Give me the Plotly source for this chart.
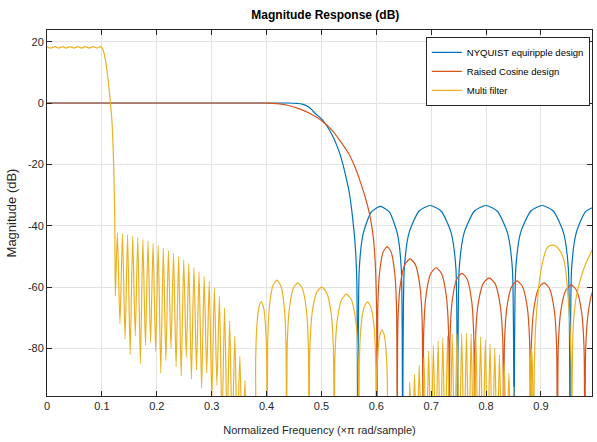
import plotly.graph_objects as go

# ---- NYQUIST equiripple design: normalized frequency (x pi rad/sample) and magnitude (dB)
nyq_f = [0, 0.2, 0.4, 0.44, 0.455, 0.465, 0.477, 0.49, 0.502, 0.51, 0.52, 0.528, 0.535, 0.5446, 0.551,
         0.5569, 0.5618, 0.5645, 0.5665,
         0.5689, 0.5763, 0.591, 0.6073, 0.6236, 0.6382, 0.6456, 0.648,
         0.651, 0.66, 0.678, 0.698, 0.718, 0.736, 0.745, 0.748,
         0.7511, 0.7604, 0.7789, 0.7995, 0.8201, 0.8386, 0.8479, 0.851,
         0.8541, 0.8632, 0.8816, 0.902, 0.9224, 0.9408, 0.9499, 0.953,
         0.9558, 0.9643, 0.9812, 0.999]
nyq_db = [0, 0, 0, 0, -0.1, -0.35, -1.3, -3.6, -5.5, -7.5, -10.6, -13.8, -17.3, -24, -29.5,
          -37.5, -47, -58, -130,
          -54.2, -42.4, -35.5, -33.7, -35.5, -42.4, -54.2, -130,
          -53.9, -42.1, -35.2, -33.4, -35.2, -42.1, -53.9, -130,
          -53.9, -42.1, -35.2, -33.4, -35.2, -42.1, -53.9, -130,
          -53.9, -42.1, -35.2, -33.4, -35.2, -42.1, -53.9, -130,
          -54.1, -42.3, -35.4, -33.7]

# ---- Raised Cosine design
rc_f = [0, 0.2, 0.38, 0.4, 0.42, 0.44, 0.46, 0.48, 0.5, 0.52, 0.535, 0.55, 0.56, 0.57, 0.58,
        0.588, 0.594, 0.598, 0.6005, 0.6015,
        0.6026, 0.6059, 0.6125, 0.6198, 0.627, 0.6336, 0.6369, 0.638,
        0.6394, 0.6436, 0.6521, 0.6615, 0.6709, 0.6794, 0.6836, 0.685,
        0.6864, 0.6908, 0.6994, 0.709, 0.7186, 0.7272, 0.7316, 0.733,
        0.7344, 0.7385, 0.7468, 0.756, 0.7652, 0.7735, 0.7776, 0.779,
        0.7806, 0.7854, 0.7949, 0.8055, 0.8161, 0.8256, 0.8304, 0.832,
        0.8335, 0.8379, 0.8467, 0.8565, 0.8663, 0.8751, 0.8795, 0.881,
        0.8825, 0.8869, 0.8957, 0.9055, 0.9153, 0.9241, 0.9285, 0.930,
        0.9315, 0.936, 0.945, 0.955, 0.965, 0.974, 0.9785, 0.980,
        0.9815, 0.986, 0.993, 0.999]
rc_db = [0, 0, 0, -0.02, -0.2, -0.8, -1.9, -3.5, -5.7, -9.0, -12.6, -16.6, -20.4, -25.2, -30.8,
         -36.5, -43, -52, -68, -130,
         -67.3, -55.5, -48.6, -46.8, -48.6, -55.5, -67.3, -130,
         -71.3, -59.5, -52.6, -50.8, -52.6, -59.5, -71.3, -130,
         -74.2, -62.4, -55.5, -53.7, -55.5, -62.4, -74.2, -130,
         -76.0, -64.2, -57.3, -55.5, -57.3, -64.2, -76.0, -130,
         -77.5, -65.7, -58.8, -57.0, -58.8, -65.7, -77.5, -130,
         -78.5, -66.7, -59.8, -58.0, -59.8, -66.7, -78.5, -130,
         -79.1, -67.3, -60.4, -58.6, -60.4, -67.3, -79.1, -130,
         -79.8, -68.0, -61.1, -59.3, -61.1, -68.0, -79.8, -130,
         -80.0, -68.5, -62.0, -60.3]

# ---- Multi filter: passband and transition
mf_pass_f = [0, 0.007, 0.014, 0.021, 0.028, 0.035, 0.042, 0.049, 0.056, 0.063, 0.07, 0.077, 0.084,
             0.091, 0.098, 0.1015, 0.104, 0.107, 0.110, 0.1134, 0.1178, 0.120, 0.122, 0.1235, 0.1245]
mf_pass_db = [18.3, 17.9, 18.35, 17.9, 18.35, 17.9, 18.35, 17.9, 18.35, 17.9, 18.35, 17.9, 18.4,
              17.9, 18.4, 17.6, 16.2, 13.5, 9.5, 4.0, -4.5, -12, -24, -38, -63]

# first stopband: fast ripples (peak, then the null that follows it)
mf_a_peak_f = [0.1282, 0.1375, 0.1468, 0.1561, 0.1654, 0.1747, 0.184, 0.1933, 0.2026, 0.2119,
               0.2212, 0.2305, 0.2398, 0.2491, 0.2584, 0.2677, 0.277, 0.2863, 0.2956, 0.3049,
               0.3142, 0.3235, 0.3328, 0.3421, 0.3514, 0.3607]
mf_a_peak_db = [-42.3, -42.6, -43.0, -43.4, -43.9, -44.4, -45.0, -45.7, -46.4, -47.2,
                -48.1, -49.0, -50.0, -51.1, -52.3, -53.6, -55.0, -56.5, -58.2, -60.2,
                -63.0, -66.8, -71.0, -76.0, -82.5, -90.5]
mf_a_null_f = [0.1329, 0.1422, 0.1515, 0.1608, 0.1701, 0.1794, 0.1887, 0.198, 0.2073, 0.2166,
               0.2259, 0.2352, 0.2445, 0.2538, 0.2631, 0.2724, 0.2817, 0.291, 0.3003, 0.3096,
               0.3189, 0.3282, 0.3375, 0.3468, 0.3561, 0.3654]
mf_a_null_db = [-72, -77, -82, -76, -85, -79, -78, -81, -88, -84,
                -80, -86, -89, -83, -90, -87, -93, -88, -97, -92,
                -105, -105, -110, -110, -115, -120]

# middle band: wide lobes
mf_b_f = [0.3795, 0.3801, 0.3821, 0.386, 0.3903, 0.3946, 0.3984, 0.4004, 0.401,
          0.4021, 0.4053, 0.4117, 0.4188, 0.4259, 0.4322, 0.4354, 0.4365,
          0.4377, 0.4414, 0.4488, 0.457, 0.4651, 0.4725, 0.4762, 0.4774,
          0.4788, 0.4829, 0.4912, 0.5004, 0.5095, 0.5178, 0.5219, 0.5233,
          0.5246, 0.5287, 0.5367, 0.5457, 0.5546, 0.5626, 0.5667, 0.568,
          0.569, 0.5718, 0.5776, 0.584, 0.5904, 0.5962, 0.599, 0.6,
          0.6006, 0.6025, 0.6063, 0.6105, 0.6147, 0.6185, 0.6204, 0.621]
mf_b_db = [-130, -85.3, -73.5, -66.6, -64.8, -66.6, -73.5, -85.3, -130,
           -78.2, -66.4, -59.5, -57.7, -59.5, -66.4, -78.2, -130,
           -79.1, -67.3, -60.4, -58.6, -60.4, -67.3, -79.1, -130,
           -80.5, -68.7, -61.8, -60.0, -61.8, -68.7, -80.5, -130,
           -82.8, -71.0, -64.1, -62.3, -64.1, -71.0, -82.8, -130,
           -85.3, -73.5, -66.6, -64.8, -66.6, -73.5, -85.3, -130,
           -94.5, -82.7, -75.8, -74.0, -75.8, -82.7, -94.5, -130]

# second group of fast ripples (null, then peak/null pairs)
mf_c_start = (0.6567, -115)
mf_c_peak_f = [0.661, 0.6696, 0.6782, 0.6868, 0.6954, 0.704, 0.7126, 0.7212, 0.7298, 0.7384,
               0.747, 0.7556, 0.7642, 0.7728, 0.7814, 0.79, 0.7986, 0.8072, 0.8158, 0.8244,
               0.833, 0.8416, 0.8502]
mf_c_peak_db = [-91, -88.5, -85.5, -83, -80.8, -79, -77.6, -76.6, -75.9, -75.4,
                -75.2, -75.1, -75.1, -75.2, -75.5, -76.2, -77.2, -78.5, -80, -82,
                -84.5, -88, -92.5]
mf_c_null_f = [0.6653, 0.6739, 0.6825, 0.6911, 0.6997, 0.7083, 0.7169, 0.7255, 0.7341, 0.7427,
               0.7513, 0.7599, 0.7685, 0.7771, 0.7857, 0.7943, 0.8029, 0.8115, 0.8201, 0.8287,
               0.8373, 0.8459, 0.8545]
mf_c_null_db = [-115, -115, -115, -115, -115, -115, -115, -115, -115, -115,
                -115, -115, -115, -115, -115, -115, -115, -115, -115, -115,
                -115, -115, -115]

# image band near Nyquist
mf_d_f = [0.878, 0.8805, 0.8825, 0.8845, 0.886, 0.888, 0.890, 0.893, 0.896, 0.9005, 0.9055, 0.91,
          0.9147, 0.921, 0.927, 0.933, 0.9385, 0.9422, 0.945, 0.948, 0.9505, 0.9527, 0.955, 0.956,
          0.9575, 0.96, 0.965, 0.97, 0.977, 0.985, 0.992, 0.999]
mf_d_db = [-115, -86, -80, -86, -115, -85, -74, -66, -59.8, -54, -50, -47.6,
           -46.6, -46.3, -46.6, -47.8, -49.5, -51.5, -54.5, -60, -66, -72, -85, -115,
           -80, -69.7, -62.5, -58.8, -54.5, -51, -48.5, -46.6]

x_ticks = [0, 0.1, 0.2, 0.3, 0.4, 0.5, 0.6, 0.7, 0.8, 0.9]
x_labels = ["0", "0.1", "0.2", "0.3", "0.4", "0.5", "0.6", "0.7", "0.8", "0.9"]
y_ticks = [-80, -60, -40, -20, 0, 20]
y_labels = ["-80", "-60", "-40", "-20", "0", "20"]


def pairs(peak_f, peak_db, null_f, null_db):
    f, d = [], []
    for pf, pd_, nf, nd in zip(peak_f, peak_db, null_f, null_db):
        f += [pf, nf]
        d += [pd_, nd]
    return f, d


a_f, a_db = pairs(mf_a_peak_f, mf_a_peak_db, mf_a_null_f, mf_a_null_db)
c_f, c_db = pairs(mf_c_peak_f, mf_c_peak_db, mf_c_null_f, mf_c_null_db)
mf_f = mf_pass_f + a_f + mf_b_f + [mf_c_start[0]] + c_f + mf_d_f
mf_db = mf_pass_db + a_db + mf_b_db + [mf_c_start[1]] + c_db + mf_d_db

BLUE, RED, YELLOW = "#0072BD", "#D95319", "#EDB120"
FONT = "Liberation Sans, Arial, sans-serif"
LW = 1.2

fig = go.Figure()
fig.add_trace(go.Scatter(x=nyq_f, y=nyq_db, mode="lines", name="NYQUIST equiripple design",
                         line=dict(color=BLUE, width=LW, shape="spline", smoothing=0.6)))
fig.add_trace(go.Scatter(x=rc_f, y=rc_db, mode="lines", name="Raised Cosine design",
                         line=dict(color=RED, width=LW, shape="spline", smoothing=0.6)))
fig.add_trace(go.Scatter(x=mf_f, y=mf_db, mode="lines", name="Multi filter",
                         line=dict(color=YELLOW, width=LW, shape="spline", smoothing=0.6)))

axis_common = dict(
    showgrid=True, gridcolor="#e3e3e3", gridwidth=1,
    showline=True, linecolor="#262626", linewidth=1, mirror="ticks",
    ticks="inside", ticklen=5, tickcolor="#262626", zeroline=False,
    tickfont=dict(family=FONT, size=11, color="#262626"),
)

fig.update_layout(
    width=597, height=442,
    margin=dict(l=47, r=5, t=30, b=46),
    paper_bgcolor="white", plot_bgcolor="white",
    font=dict(family=FONT, color="#262626"),
    title=dict(text="<b>Magnitude Response (dB)</b>", x=0.545, xanchor="center",
               y=0.966, yanchor="middle", font=dict(family=FONT, size=12, color="black")),
    showlegend=True,
    legend=dict(x=0.996, y=0.981, xanchor="right", yanchor="top",
                bgcolor="white", bordercolor="#262626", borderwidth=1,
                font=dict(family=FONT, size=9.5, color="black"),
                itemwidth=30, tracegroupgap=0),
    xaxis=dict(range=[0, 0.993], tickvals=x_ticks, ticktext=x_labels,
               title=dict(text="Normalized Frequency (\u00d7\u03c0 rad/sample)",
                          font=dict(family=FONT, size=11, color="#262626"), standoff=15),
               **axis_common),
    yaxis=dict(range=[-95.5, 23.8], tickvals=y_ticks, ticktext=y_labels,
               title=dict(text="Magnitude (dB)", font=dict(family=FONT, size=13, color="#262626"),
                          standoff=8),
               **axis_common),
)

fig.write_html("out.html")
